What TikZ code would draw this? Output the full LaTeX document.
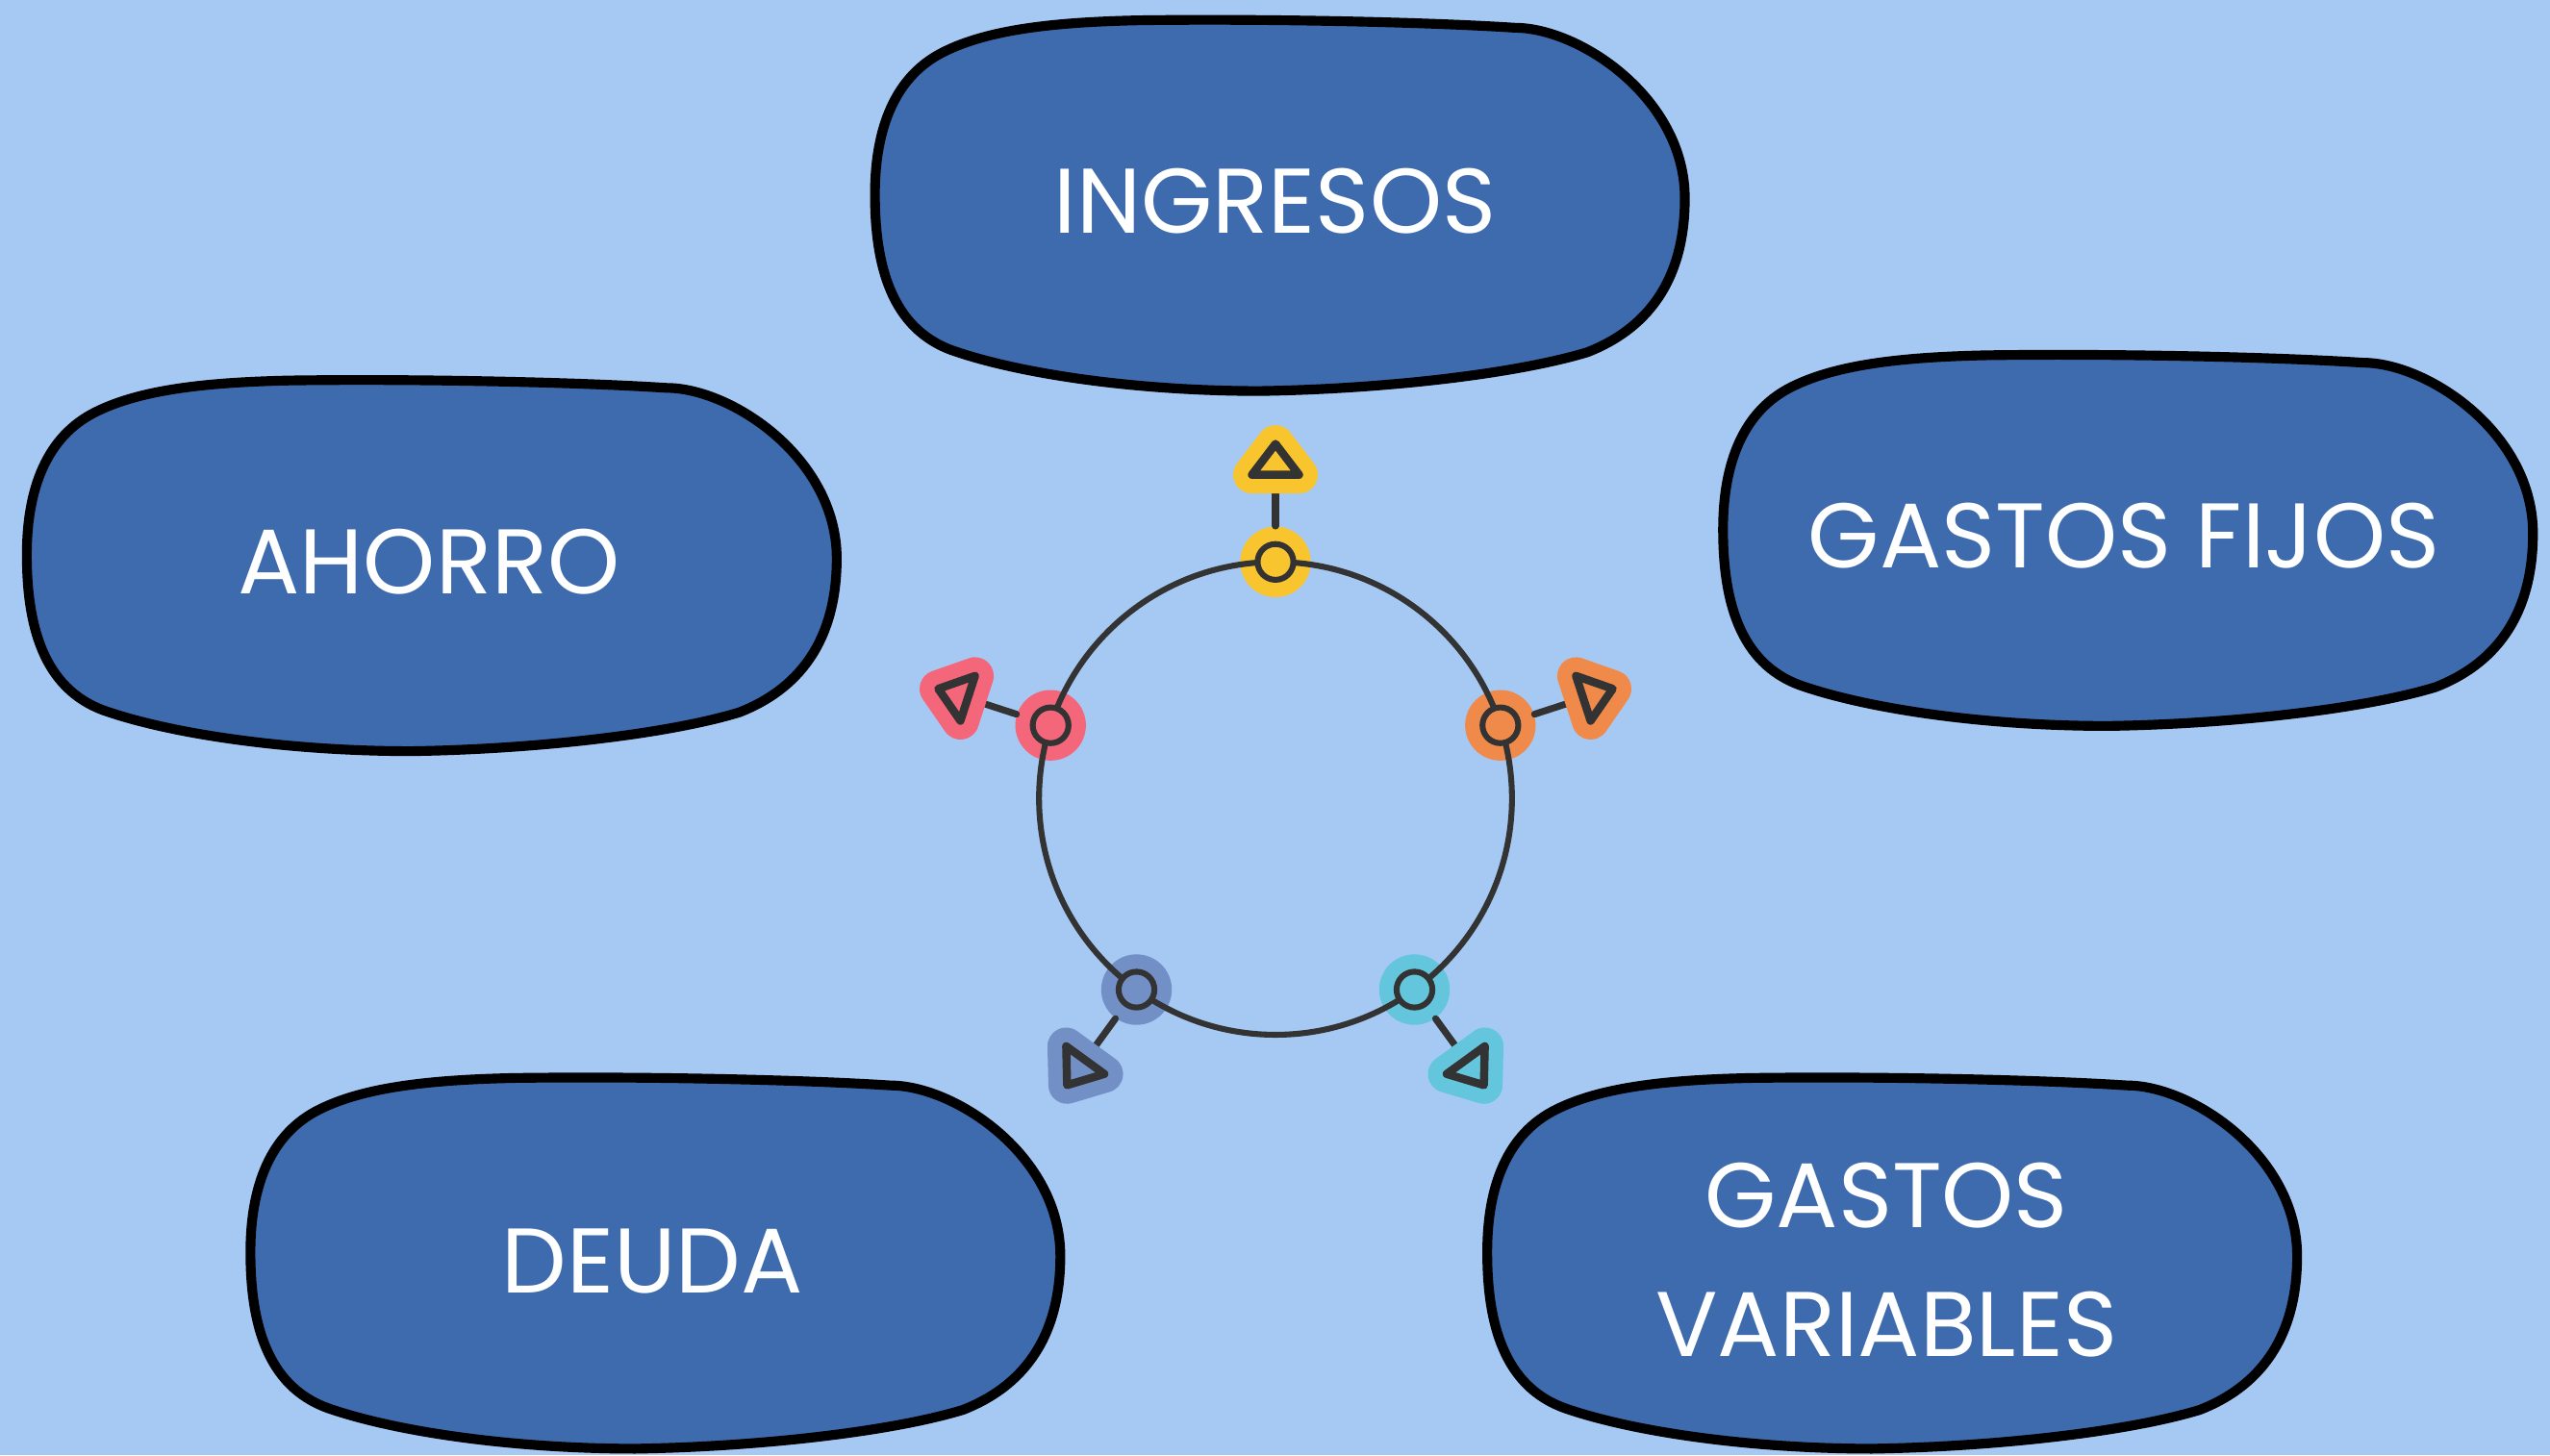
\documentclass[tikz,border=0pt]{standalone}
\usepackage{fontspec}
\setmainfont{Poppins}
\usetikzlibrary{calc}

\definecolor{bgblue}{HTML}{A6C9F4}
\definecolor{blobfill}{HTML}{3E6BAD}
\definecolor{ink}{HTML}{333333}
\definecolor{cyel}{HTML}{F9C52F}
\definecolor{cred}{HTML}{F4677A}
\definecolor{corange}{HTML}{F08A4B}
\definecolor{cslate}{HTML}{7390C6}
\definecolor{ccyan}{HTML}{63C6DD}

\tikzset{every picture/.style={line width=0.75pt}}
\tikzset{
  blob/.pic={
    \draw[draw=black, fill=blobfill, line width=6, line join=round]
      (0.58,-0.96) .. controls (0.74,-0.96) and (1,-0.58) .. (1,-0.04)
      .. controls (1,0.42) and (0.9,0.67) .. (0.76,0.79)
      .. controls (0.58,0.91) and (0.25,0.99) .. (-0.05,1)
      .. controls (-0.35,1) and (-0.64,0.91) .. (-0.81,0.78)
      .. controls (-0.96,0.66) and (-1,0.32) .. (-1,-0.06)
      .. controls (-1,-0.42) and (-0.95,-0.7) .. (-0.83,-0.83)
      .. controls (-0.72,-0.95) and (-0.56,-0.99) .. (-0.35,-1)
      .. controls (-0.03,-1.01) and (0.37,-0.99) .. (0.58,-0.96) -- cycle;
  },
  boxtext/.style={text=white, font=\fontsize{56.5}{79.4}\selectfont, align=center},
  halo/.style={circle, minimum size=43.4, inner sep=0pt},
  dot/.style={circle, draw=ink, line width=3.6, minimum size=22, inner sep=0pt},
  link/.style={draw=ink, line width=4.2, line cap=round},
  tipglow/.style={line width=23, line join=round},
  tipmark/.style={draw=ink, line width=5, line join=round},
}

\begin{document}
\begin{tikzpicture}[x=1pt,y=1pt,yscale=-1,xscale=1]
	\useasboundingbox (0,0) rectangle (1568,895);
	\fill[bgblue] (0,0) rectangle (1568,895);

	%Shape: Blob
	\pic[xscale=249, yscale=-114] at (787,126.5) {blob};
	%Shape: Blob
	\pic[xscale=249, yscale=-114] at (265.5,348) {blob};
	%Shape: Blob
	\pic[xscale=249, yscale=-114] at (1308.5,332.5) {blob};
	%Shape: Blob
	\pic[xscale=249, yscale=-114] at (403,777) {blob};
	%Shape: Blob
	\pic[xscale=249, yscale=-114] at (1163.5,777) {blob};

	% Text Node
	\node[boxtext] (ingresos) at (784,123.5) {INGRESOS};
	% Text Node
	\node[boxtext] (ahorro) at (263.7,345.7) {AHORRO};
	% Text Node
	\node[boxtext] (fijos) at (1306,329.5) {GASTOS FIJOS};
	% Text Node
	\node[boxtext] (deuda) at (401,775.5) {DEUDA};
	% Text Node
	\node[boxtext] (variables) at (1160,774.8) {GASTOS\\VARIABLES};

	\begin{scope}[shift={(784.3,491)}]
	%Shape: Circle halos
	\node[halo, fill=cyel] (n1) at (-90:145.4) {};
	\node[halo, fill=cred] (n2) at (-162:145.4) {};
	\node[halo, fill=corange] (n3) at (-18:145.4) {};
	\node[halo, fill=cslate] (n4) at (126:145.4) {};
	\node[halo, fill=ccyan] (n5) at (54:145.4) {};
	%Shape: Ring
	\draw[ink, line width=3.6] (0,0) circle (145.4);
	%Shape: Circle dots
	\node[dot, fill=cyel] (d1) at (n1) {};
	\node[dot, fill=cred] (d2) at (n2) {};
	\node[dot, fill=corange] (d3) at (n3) {};
	\node[dot, fill=cslate] (d4) at (n4) {};
	\node[dot, fill=ccyan] (d5) at (n5) {};
	%Straight Lines
	\coordinate (t1) at (-90:188);
	\coordinate (t2) at (-162:188);
	\coordinate (t3) at (-18:188);
	\coordinate (t4) at (126:188);
	\coordinate (t5) at (54:188);
	\draw[link] (n1) -- (t1);
	\draw[link] (n2) -- (t2);
	\draw[link] (n3) -- (t3);
	\draw[link] (n4) -- (t4);
	\draw[link] (n5) -- (t5);
	%Shape: Triangles
	\begin{scope}[rotate=-90]
	\draw[tipglow, draw=cyel, fill=cyel] (218,0) -- (199,14.5) -- (199,-14.5) -- cycle;
	\draw[tipmark] (218,0) -- (199,14.5) -- (199,-14.5) -- cycle;
	\end{scope}
	\begin{scope}[rotate=-162]
	\draw[tipglow, draw=cred, fill=cred] (218,0) -- (199,14.5) -- (199,-14.5) -- cycle;
	\draw[tipmark] (218,0) -- (199,14.5) -- (199,-14.5) -- cycle;
	\end{scope}
	\begin{scope}[rotate=-18]
	\draw[tipglow, draw=corange, fill=corange] (218,0) -- (199,14.5) -- (199,-14.5) -- cycle;
	\draw[tipmark] (218,0) -- (199,14.5) -- (199,-14.5) -- cycle;
	\end{scope}
	\begin{scope}[rotate=126]
	\draw[tipglow, draw=cslate, fill=cslate] (218,0) -- (199,14.5) -- (199,-14.5) -- cycle;
	\draw[tipmark] (218,0) -- (199,14.5) -- (199,-14.5) -- cycle;
	\end{scope}
	\begin{scope}[rotate=54]
	\draw[tipglow, draw=ccyan, fill=ccyan] (218,0) -- (199,14.5) -- (199,-14.5) -- cycle;
	\draw[tipmark] (218,0) -- (199,14.5) -- (199,-14.5) -- cycle;
	\end{scope}
	\end{scope}

\end{tikzpicture}
\end{document}
